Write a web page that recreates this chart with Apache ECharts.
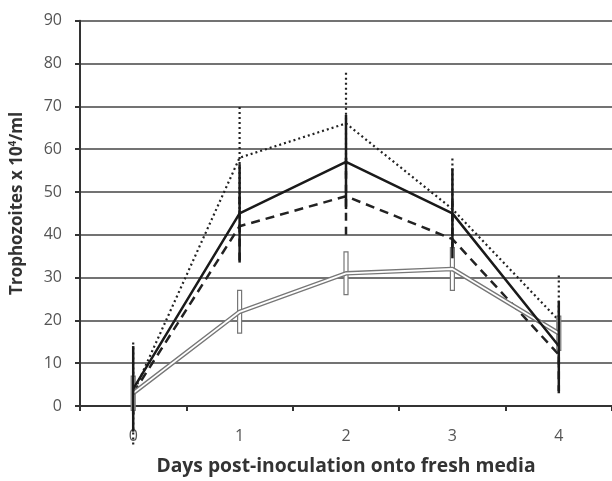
<!DOCTYPE html>
<html><head><meta charset="utf-8">
<script src="https://cdn.jsdelivr.net/npm/echarts@6/dist/echarts.min.js"></script>
<style>html,body{margin:0;padding:0;background:#fff;overflow:hidden}#c{width:612px;height:481px}</style>
</head><body><div id="c"></div>
<script>
var days = ['0', '1', '2', '3', '4'];
var yTicks = [0, 10, 20, 30, 40, 50, 60, 70, 80, 90];
var solidMean = [4, 45, 57, 45, 14];
var solidErr = [10, 11.5, 11, 10.5, 10.5];
var dottedMean = [3, 58, 66, 46, 20];
var dottedErr = [12, 12, 12, 12, 11];
var dashedMean = [3, 42, 49, 39, 12];
var dashedErr = [5, 8, 9, 9, 9];
var doubleMean = [3, 22, 31, 32, 17];
var doubleErr = [4, 5, 5, 5, 4];

function errData(mean, err) {
  return mean.map(function (m, i) { return [i, m - err[i], m + err[i]]; });
}
function errSeries(mean, err, style, z, outlined) {
  return {
    type: 'custom', z: z, silent: true,
    data: errData(mean, err),
    renderItem: function (params, api) {
      var lo = api.coord([api.value(0), api.value(1)]);
      var hi = api.coord([api.value(0), api.value(2)]);
      if (outlined) {
        return { type: 'rect', shape: { x: lo[0] - 2, y: hi[1], width: 4, height: lo[1] - hi[1] },
          style: { fill: '#fff', stroke: '#777', lineWidth: 1.2 } };
      }
      return { type: 'line', shape: { x1: lo[0], y1: lo[1], x2: hi[0], y2: hi[1] }, style: style };
    }
  };
}

var chart = echarts.init(document.getElementById('c'), null, { renderer: 'canvas' });
chart.setOption({
  animation: false,
  grid: { left: 74, right: -4, top: 20.7, bottom: 70.6, containLabel: false },
  xAxis: {
    type: 'category', data: days, boundaryGap: true,
    name: 'Days post-inoculation onto fresh media', nameLocation: 'middle', nameGap: 51,
    nameTextStyle: { fontFamily: 'Open Sans', fontWeight: 'bold', fontSize: 19.3, color: '#333' },
    axisLine: { lineStyle: { color: '#333', width: 2 } },
    axisTick: { show: true, length: 5, lineStyle: { color: '#333', width: 2 } },
    axisLabel: { fontFamily: 'Open Sans', fontSize: 16, color: '#555', margin: 22 },
    splitLine: { show: false }
  },
  yAxis: {
    type: 'value', min: yTicks[0], max: yTicks[yTicks.length - 1], interval: 10,
    name: '{a|Trophozoites x 10}{s|4}{a|/ml}', nameLocation: 'middle', nameGap: 53, nameRotate: 90,
    nameTextStyle: { padding: [0, 0, 0, 20], rich: {
      a: { fontFamily: 'Open Sans', fontWeight: 'bold', fontSize: 17, color: '#333' },
      s: { fontFamily: 'Open Sans', fontWeight: 'bold', fontSize: 10, color: '#333', verticalAlign: 'top', padding: [0, 0, 9, 0] }
    } },
    axisLine: { show: true, lineStyle: { color: '#333', width: 2 } },
    axisTick: { show: true, length: 5, lineStyle: { color: '#333', width: 2 } },
    axisLabel: { fontFamily: 'Open Sans', fontSize: 16, color: '#555', margin: 18 },
    splitLine: { show: true, lineStyle: { color: '#444', width: 1.5 } }
  },
  series: [
    errSeries(dottedMean, dottedErr, { stroke: '#222', lineWidth: 2.2, lineDash: [2, 3] }, 2),
    { type: 'line', data: dottedMean, z: 3, symbol: 'none', lineStyle: { color: '#222', width: 2.2, type: [2, 3] } },
    errSeries(dashedMean, dashedErr, { stroke: '#222', lineWidth: 2.5, lineDash: [8, 6] }, 4),
    { type: 'line', data: dashedMean, z: 5, symbol: 'none', lineStyle: { color: '#222', width: 2.5, type: [9, 6] } },
    errSeries(doubleMean, doubleErr, null, 6, true),
    { type: 'line', data: doubleMean, z: 7, symbol: 'none', lineStyle: { color: '#777', width: 4.5 } },
    { type: 'line', data: doubleMean, z: 8, symbol: 'none', lineStyle: { color: '#fff', width: 1.8 } },
    errSeries(solidMean, solidErr, { stroke: '#1a1a1a', lineWidth: 2.5 }, 9),
    { type: 'line', data: solidMean, z: 10, symbol: 'none', lineStyle: { color: '#1a1a1a', width: 2.5 } }
  ]
});
</script></body></html>
